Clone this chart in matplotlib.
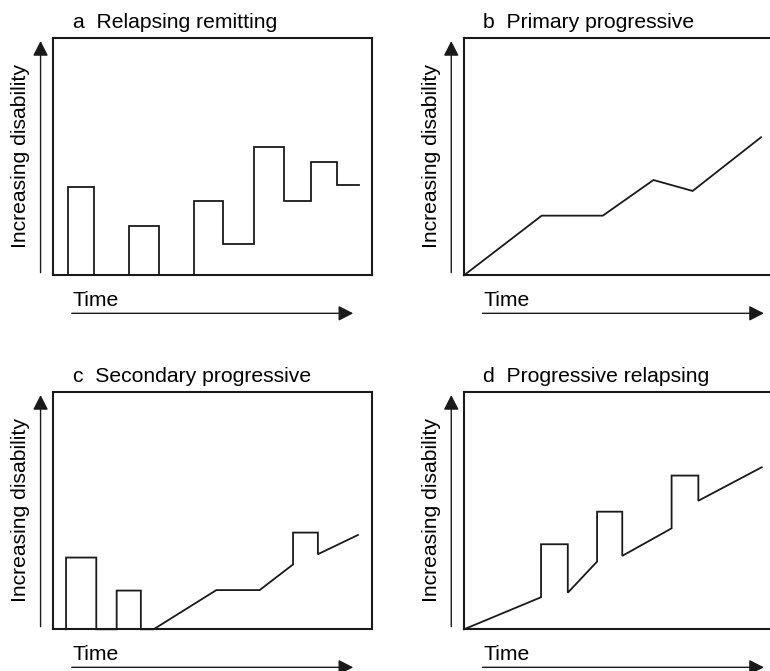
import matplotlib
matplotlib.use("Agg")
import matplotlib.pyplot as plt
from matplotlib.patches import FancyArrowPatch

plt.rcParams['font.family'] = ['Liberation Sans', 'DejaVu Sans']

# traces, axes run 0..100 in both directions
x_a = [4.7, 4.7, 12.7, 12.7, 23.9, 23.9, 33.3, 33.3, 44.3, 44.3, 53.2, 53.2,
       63.1, 63.1, 72.5, 72.5, 80.8, 80.8, 89.2, 89.2, 96.0]
y_a = [0, 37.3, 37.3, 0, 0, 20.8, 20.8, 0, 0, 31.3, 31.3, 13.0,
       13.0, 54.0, 54.0, 31.3, 31.3, 47.8, 47.8, 38.0, 38.0]

x_b = [0, 24.4, 43.6, 59.5, 71.8, 93.3]
y_b = [0, 25.1, 25.1, 40.1, 35.5, 58.1]

x_c = [4.0, 4.0, 13.5, 13.5, 19.9, 19.9, 27.5, 27.5, 31.5, 51.2, 64.8,
       75.3, 75.3, 83.1, 83.1, 95.7]
y_c = [0, 30.2, 30.2, 0, 0, 16.3, 16.3, 0, 0, 16.5, 16.5,
       27.3, 40.7, 40.7, 31.6, 39.7]

x_d = [0, 24.2, 24.2, 32.6, 32.6, 41.8, 41.8, 49.7, 49.7, 65.2, 65.2,
       73.6, 73.6, 93.5]
y_d = [0, 13.5, 35.8, 35.8, 15.4, 28.5, 49.5, 49.5, 30.9, 42.5, 64.7,
       64.7, 54.1, 68.2]

titles = ["a  Relapsing remitting", "b  Primary progressive",
          "c  Secondary progressive", "d  Progressive relapsing"]
ylabel = "Increasing disability"
xlabel = "Time"

W, H = 770, 671
fig = plt.figure(figsize=(W / 100, H / 100), dpi=100)

# box positions in pixels: left, top
boxes = [(53.3, 37.7), (464, 37.7), (53.3, 391.7), (464, 391.7)]
bw, bh = 318.4, 237.6
col = '#1a1a1a'
fs = 15.2

panels = [(x_a, y_a), (x_b, y_b), (x_c, y_c), (x_d, y_d)]

for (left, top), (xs, ys), title in zip(boxes, panels, titles):
    ax = fig.add_axes([left / W, 1 - (top + bh) / H, bw / W, bh / H])
    ax.set_xlim(0, 100)
    ax.set_ylim(0, 100)
    ax.set_xticks([])
    ax.set_yticks([])
    for s in ax.spines.values():
        s.set_linewidth(1.5)
        s.set_color(col)

    ax.plot(xs, ys, color=col, lw=1.3, clip_on=False, solid_joinstyle='miter')

    # vertical arrow
    up = FancyArrowPatch((-4.0, 1.1), (-4.0, 98.6), arrowstyle='-|>,head_length=0.45,head_width=0.23',
                         mutation_scale=20, color=col, lw=1.0, shrinkA=0, shrinkB=0,
                         clip_on=False)
    ax.add_patch(up)
    # horizontal arrow
    right = FancyArrowPatch((5.8, -16.0), (94.2, -16.0), arrowstyle='-|>,head_length=0.45,head_width=0.23',
                            mutation_scale=20, color=col, lw=1.0, shrinkA=0, shrinkB=0,
                            clip_on=False)
    ax.add_patch(right)

    ax.text(6.1, -12.8, xlabel, fontsize=fs, ha='left', va='baseline', color='black')
    ax.text(6.1, 104.0, title, fontsize=fs, ha='left', va='baseline', color='black')
    ax.text(-10.2, 50, ylabel, fontsize=fs, rotation=90, ha='center', va='center', color='black')

fig.savefig("out.png", dpi=100)
